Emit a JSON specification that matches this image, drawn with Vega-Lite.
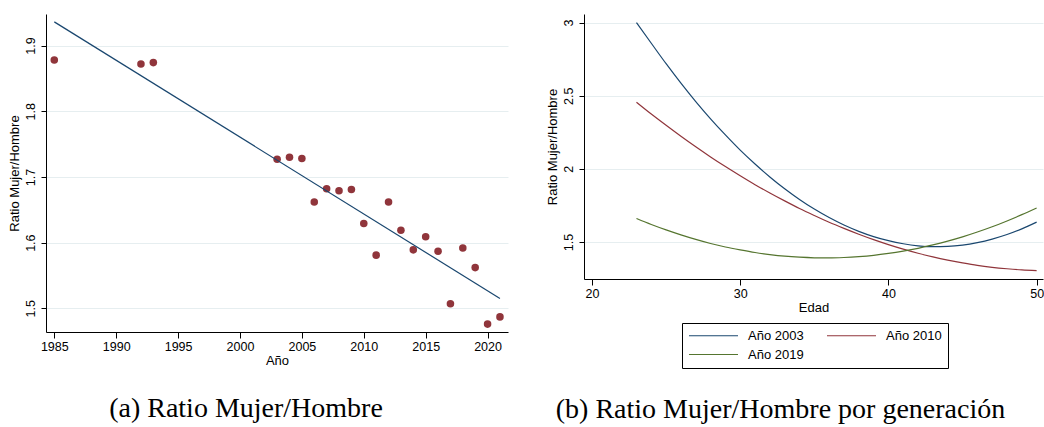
{
  "$schema": "https://vega.github.io/schema/vega-lite/v6.json",
  "background": "white",
  "padding": {"left": 8, "top": 14, "right": 0, "bottom": 0},
  "datasets": {
    "pts": [
      {"anio": 1985, "ratio": 1.878},
      {"anio": 1992, "ratio": 1.872},
      {"anio": 1993, "ratio": 1.874},
      {"anio": 2003, "ratio": 1.727},
      {"anio": 2004, "ratio": 1.730},
      {"anio": 2005, "ratio": 1.728},
      {"anio": 2006, "ratio": 1.662},
      {"anio": 2007, "ratio": 1.682},
      {"anio": 2008, "ratio": 1.679},
      {"anio": 2009, "ratio": 1.681},
      {"anio": 2010, "ratio": 1.629},
      {"anio": 2011, "ratio": 1.581},
      {"anio": 2012, "ratio": 1.662},
      {"anio": 2013, "ratio": 1.619},
      {"anio": 2014, "ratio": 1.589},
      {"anio": 2015, "ratio": 1.609},
      {"anio": 2016, "ratio": 1.587},
      {"anio": 2017, "ratio": 1.507},
      {"anio": 2018, "ratio": 1.592},
      {"anio": 2019, "ratio": 1.562},
      {"anio": 2020, "ratio": 1.476},
      {"anio": 2021, "ratio": 1.487}
    ],
    "fit": [
      {"anio": 1985, "ratio": 1.936},
      {"anio": 2021, "ratio": 1.515}
    ],
    "curves": [
      {"edad": 23, "ratio": 3.0, "serie": "Año 2003"},
      {"edad": 24, "ratio": 2.859, "serie": "Año 2003"},
      {"edad": 25, "ratio": 2.719, "serie": "Año 2003"},
      {"edad": 26, "ratio": 2.586, "serie": "Año 2003"},
      {"edad": 27, "ratio": 2.460, "serie": "Año 2003"},
      {"edad": 28, "ratio": 2.342, "serie": "Año 2003"},
      {"edad": 29, "ratio": 2.232, "serie": "Año 2003"},
      {"edad": 30, "ratio": 2.128, "serie": "Año 2003"},
      {"edad": 31, "ratio": 2.033, "serie": "Año 2003"},
      {"edad": 32, "ratio": 1.945, "serie": "Año 2003"},
      {"edad": 33, "ratio": 1.864, "serie": "Año 2003"},
      {"edad": 34, "ratio": 1.791, "serie": "Año 2003"},
      {"edad": 35, "ratio": 1.725, "serie": "Año 2003"},
      {"edad": 36, "ratio": 1.667, "serie": "Año 2003"},
      {"edad": 37, "ratio": 1.616, "serie": "Año 2003"},
      {"edad": 38, "ratio": 1.573, "serie": "Año 2003"},
      {"edad": 39, "ratio": 1.537, "serie": "Año 2003"},
      {"edad": 40, "ratio": 1.509, "serie": "Año 2003"},
      {"edad": 41, "ratio": 1.488, "serie": "Año 2003"},
      {"edad": 42, "ratio": 1.474, "serie": "Año 2003"},
      {"edad": 43, "ratio": 1.468, "serie": "Año 2003"},
      {"edad": 44, "ratio": 1.470, "serie": "Año 2003"},
      {"edad": 45, "ratio": 1.479, "serie": "Año 2003"},
      {"edad": 46, "ratio": 1.496, "serie": "Año 2003"},
      {"edad": 47, "ratio": 1.520, "serie": "Año 2003"},
      {"edad": 48, "ratio": 1.551, "serie": "Año 2003"},
      {"edad": 49, "ratio": 1.590, "serie": "Año 2003"},
      {"edad": 50, "ratio": 1.636, "serie": "Año 2003"},
      {"edad": 23, "ratio": 2.456, "serie": "Año 2010"},
      {"edad": 24, "ratio": 2.375, "serie": "Año 2010"},
      {"edad": 25, "ratio": 2.298, "serie": "Año 2010"},
      {"edad": 26, "ratio": 2.223, "serie": "Año 2010"},
      {"edad": 27, "ratio": 2.151, "serie": "Año 2010"},
      {"edad": 28, "ratio": 2.082, "serie": "Año 2010"},
      {"edad": 29, "ratio": 2.016, "serie": "Año 2010"},
      {"edad": 30, "ratio": 1.953, "serie": "Año 2010"},
      {"edad": 31, "ratio": 1.892, "serie": "Año 2010"},
      {"edad": 32, "ratio": 1.835, "serie": "Año 2010"},
      {"edad": 33, "ratio": 1.781, "serie": "Año 2010"},
      {"edad": 34, "ratio": 1.729, "serie": "Año 2010"},
      {"edad": 35, "ratio": 1.681, "serie": "Año 2010"},
      {"edad": 36, "ratio": 1.635, "serie": "Año 2010"},
      {"edad": 37, "ratio": 1.593, "serie": "Año 2010"},
      {"edad": 38, "ratio": 1.553, "serie": "Año 2010"},
      {"edad": 39, "ratio": 1.516, "serie": "Año 2010"},
      {"edad": 40, "ratio": 1.482, "serie": "Año 2010"},
      {"edad": 41, "ratio": 1.451, "serie": "Año 2010"},
      {"edad": 42, "ratio": 1.423, "serie": "Año 2010"},
      {"edad": 43, "ratio": 1.398, "serie": "Año 2010"},
      {"edad": 44, "ratio": 1.376, "serie": "Año 2010"},
      {"edad": 45, "ratio": 1.357, "serie": "Año 2010"},
      {"edad": 46, "ratio": 1.340, "serie": "Año 2010"},
      {"edad": 47, "ratio": 1.327, "serie": "Año 2010"},
      {"edad": 48, "ratio": 1.317, "serie": "Año 2010"},
      {"edad": 49, "ratio": 1.309, "serie": "Año 2010"},
      {"edad": 50, "ratio": 1.304, "serie": "Año 2010"},
      {"edad": 23, "ratio": 1.661, "serie": "Año 2019"},
      {"edad": 24, "ratio": 1.620, "serie": "Año 2019"},
      {"edad": 25, "ratio": 1.583, "serie": "Año 2019"},
      {"edad": 26, "ratio": 1.549, "serie": "Año 2019"},
      {"edad": 27, "ratio": 1.518, "serie": "Año 2019"},
      {"edad": 28, "ratio": 1.490, "serie": "Año 2019"},
      {"edad": 29, "ratio": 1.466, "serie": "Año 2019"},
      {"edad": 30, "ratio": 1.446, "serie": "Año 2019"},
      {"edad": 31, "ratio": 1.428, "serie": "Año 2019"},
      {"edad": 32, "ratio": 1.414, "serie": "Año 2019"},
      {"edad": 33, "ratio": 1.403, "serie": "Año 2019"},
      {"edad": 34, "ratio": 1.396, "serie": "Año 2019"},
      {"edad": 35, "ratio": 1.392, "serie": "Año 2019"},
      {"edad": 36, "ratio": 1.391, "serie": "Año 2019"},
      {"edad": 37, "ratio": 1.394, "serie": "Año 2019"},
      {"edad": 38, "ratio": 1.400, "serie": "Año 2019"},
      {"edad": 39, "ratio": 1.409, "serie": "Año 2019"},
      {"edad": 40, "ratio": 1.422, "serie": "Año 2019"},
      {"edad": 41, "ratio": 1.438, "serie": "Año 2019"},
      {"edad": 42, "ratio": 1.457, "serie": "Año 2019"},
      {"edad": 43, "ratio": 1.480, "serie": "Año 2019"},
      {"edad": 44, "ratio": 1.506, "serie": "Año 2019"},
      {"edad": 45, "ratio": 1.535, "serie": "Año 2019"},
      {"edad": 46, "ratio": 1.568, "serie": "Año 2019"},
      {"edad": 47, "ratio": 1.604, "serie": "Año 2019"},
      {"edad": 48, "ratio": 1.644, "serie": "Año 2019"},
      {"edad": 49, "ratio": 1.687, "serie": "Año 2019"},
      {"edad": 50, "ratio": 1.733, "serie": "Año 2019"}
    ]
  },
  "spacing": 76,
  "bounds": "flush",
  "hconcat": [
    {
      "width": 462,
      "height": 318,
      "title": {"text": "(a) Ratio Mujer/Hombre", "orient": "bottom", "frame": "group", "anchor": "middle", "dx": -31, "offset": 27, "font": "Liberation Serif", "fontSize": 28, "fontWeight": "normal", "color": "black"},
      "layer": [
        {
          "data": {"name": "pts"},
          "mark": {"type": "circle", "size": 57, "opacity": 1, "color": "#90353b"},
          "encoding": {
            "x": {"field": "anio", "type": "quantitative", "scale": {"domain": [1984.33, 2021.65], "nice": false, "zero": false}, "axis": {"values": [1985, 1990, 1995, 2000, 2005, 2010, 2015, 2020], "format": "d", "title": "Año"}},
            "y": {"field": "ratio", "type": "quantitative", "scale": {"domain": [1.464, 1.948], "nice": false, "zero": false}, "axis": {"values": [1.5, 1.6, 1.7, 1.8, 1.9], "format": ".1f", "title": "Ratio Mujer/Hombre"}}
          }
        },
        {
          "data": {"name": "fit"},
          "mark": {"type": "line", "color": "#1a476f", "strokeWidth": 1.2},
          "encoding": {
            "x": {"field": "anio", "type": "quantitative"},
            "y": {"field": "ratio", "type": "quantitative"}
          }
        }
      ]
    },
    {
      "width": 459,
      "height": 265,
      "title": {"text": "(b) Ratio Mujer/Hombre por generación", "orient": "bottom", "frame": "group", "anchor": "middle", "dx": -33, "offset": 81, "font": "Liberation Serif", "fontSize": 28, "fontWeight": "normal", "color": "black"},
      "data": {"name": "curves"},
      "mark": {"type": "line", "strokeWidth": 1.2, "interpolate": "monotone"},
      "encoding": {
        "x": {"field": "edad", "type": "quantitative", "scale": {"domain": [19.46, 50.43], "nice": false, "zero": false}, "axis": {"values": [20, 30, 40, 50], "format": "d", "title": "Edad"}},
        "y": {"field": "ratio", "type": "quantitative", "scale": {"domain": [1.247, 3.059], "nice": false, "zero": false}, "axis": {"values": [1.5, 2, 2.5, 3], "format": "~g", "title": "Ratio Mujer/Hombre"}},
        "color": {
          "field": "serie", "type": "nominal",
          "scale": {"domain": ["Año 2003", "Año 2010", "Año 2019"], "range": ["#1a476f", "#90353b", "#55752f"]},
          "legend": {"title": null, "orient": "none", "legendX": 636, "legendY": 309, "direction": "horizontal", "columns": 2, "symbolType": "stroke", "symbolSize": 2401, "symbolStrokeWidth": 1.2, "clipHeight": 13, "labelFont": "Liberation Sans", "labelFontSize": 13, "labelColor": "black", "labelOffset": 9, "columnPadding": 22, "rowPadding": 5, "padding": 6, "strokeColor": "black", "fillColor": "white", "cornerRadius": 0}
        }
      }
    }
  ],
  "config": {
    "view": {"stroke": null},
    "font": "Liberation Sans",
    "axis": {"domainColor": "black", "domainWidth": 1, "tickColor": "black", "tickWidth": 1, "labelColor": "black", "titleColor": "black", "labelFont": "Liberation Sans", "titleFont": "Liberation Sans", "labelFontSize": 12.5, "titleFontSize": 13, "titleFontWeight": "normal", "gridColor": "#e6eef0", "gridWidth": 1},
    "axisX": {"grid": false, "tickSize": 6, "labelPadding": 2, "titlePadding": 2},
    "axisY": {"grid": true, "tickSize": 5, "labelAngle": -90, "labelAlign": "center", "labelBaseline": "bottom", "labelPadding": 4, "titlePadding": 3}
  }
}
